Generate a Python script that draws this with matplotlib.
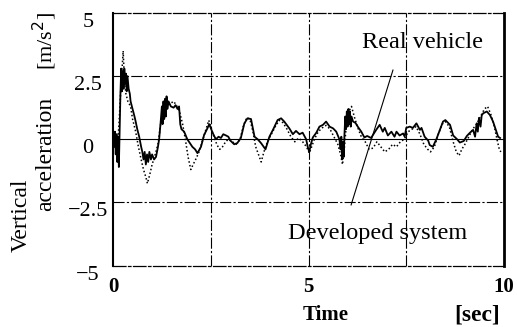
import matplotlib
matplotlib.use('Agg')
from matplotlib import pyplot as plt
import numpy as np

# real vehicle (solid trace)
t_real = [0.00, 0.03, 0.05, 0.07, 0.09, 0.11, 0.13, 0.15, 0.17, 0.19, 0.21, 0.23, 0.25, 0.27,
          0.29, 0.31, 0.33, 0.35, 0.37, 0.40, 0.43, 0.45, 0.50, 0.55, 0.58, 0.62, 0.67, 0.72,
          0.75, 0.78, 0.81, 0.84, 0.87, 0.90, 0.93, 0.97, 1.00, 1.05, 1.10, 1.15, 1.18, 1.22,
          1.25, 1.27, 1.29, 1.31, 1.33, 1.35, 1.37, 1.39, 1.42, 1.48, 1.55, 1.60, 1.65, 1.69,
          1.72, 1.75, 1.82, 1.90, 2.03, 2.10, 2.16, 2.25, 2.33, 2.42, 2.46, 2.55, 2.63, 2.70,
          2.76, 2.82, 2.89, 2.95, 3.00, 3.10, 3.18, 3.27, 3.36, 3.44, 3.53, 3.62, 3.70, 3.79,
          3.90, 4.00, 4.09, 4.21, 4.30, 4.38, 4.51, 4.60, 4.68, 4.77, 4.85, 4.94, 4.98, 5.02,
          5.06, 5.11, 5.20, 5.28, 5.37, 5.45, 5.54, 5.63, 5.71, 5.79, 5.82, 5.84, 5.86, 5.88,
          5.90, 5.92, 5.94, 5.96, 5.98, 6.00, 6.02, 6.04, 6.06, 6.08, 6.10, 6.14, 6.20, 6.26,
          6.35, 6.43, 6.50, 6.60, 6.73, 6.82, 6.90, 6.95, 7.03, 7.12, 7.20, 7.25, 7.33, 7.42,
          7.46, 7.50, 7.59, 7.67, 7.76, 7.85, 7.89, 7.97, 8.06, 8.10, 8.18, 8.27, 8.36, 8.44,
          8.50, 8.62, 8.70, 8.80, 8.87, 8.97, 9.05, 9.13, 9.21, 9.26, 9.30, 9.33, 9.36, 9.40,
          9.43, 9.47, 9.56, 9.64, 9.72, 9.79, 9.85, 9.90]
a_real = [0.0, -0.3, 0.3, -0.6, 0.2, -0.9, 0.1, -1.1, 0.4, 1.8, 2.8, 1.9, 2.7, 2.0,
          2.8, 2.2, 2.6, 1.9, 2.5, 2.0, 1.8, 1.5, 1.2, 0.9, 0.7, 0.4, 0.1, -0.3,
          -0.5, -0.8, -0.5, -1.0, -0.6, -0.9, -0.5, -0.8, -0.6, -0.8, -0.7, -0.3, 0.0, 0.7,
          1.3, 0.6, 1.5, 0.8, 1.6, 0.9, 1.7, 1.2, 1.5, 1.3, 1.25, 1.35, 1.2, 1.3,
          0.6, 0.4, 0.3, 0.0, -0.3, -0.4, -0.55, -0.3, 0.17, 0.45, 0.6, 0.25, 0.0, 0.1,
          0.05, 0.2, 0.15, 0.1, -0.05, -0.2, -0.15, 0.05, 0.63, 0.83, 0.8, 0.1, 0.0, -0.16,
          -0.4, 0.1, 0.37, 0.76, 0.83, 0.7, 0.43, 0.2, 0.33, 0.2, 0.26, 0.0, -0.3, -0.5,
          -0.2, 0.07, 0.26, 0.5, 0.57, 0.7, 0.5, 0.43, 0.3, 0.0, -0.4, 0.1, -0.8, -0.1,
          -0.7, 0.2, 0.9, 0.4, 1.1, 0.5, 1.2, 0.6, 1.1, 0.5, 0.9, 0.7, 0.65, 0.5,
          0.3, 0.07, 0.13, 0.05, 0.37, 0.57, 0.3, 0.45, 0.15, 0.3, 0.1, 0.3, 0.15, 0.23,
          0.1, 0.45, 0.5, 0.45, 0.63, 0.37, 0.45, 0.1, -0.05, -0.23, -0.3, 0.0, 0.37, 0.7,
          0.76, 0.57, 0.15, 0.0, -0.13, -0.07, 0.13, 0.26, 0.37, 0.1, 0.63, 0.3, 0.85, 0.5,
          0.95, 1.03, 1.1, 0.96, 0.7, 0.37, 0.1, 0.05]

# developed system (dotted trace)
t_dev = [0.00, 0.05, 0.10, 0.15, 0.20, 0.24, 0.26, 0.29, 0.33, 0.38, 0.45, 0.50, 0.58, 0.65,
         0.72, 0.78, 0.84, 0.88, 0.94, 1.00, 1.08, 1.15, 1.22, 1.28, 1.36, 1.45, 1.55, 1.62,
         1.70, 1.78, 1.85, 1.92, 1.99, 2.05, 2.13, 2.20, 2.28, 2.36, 2.45, 2.52, 2.60, 2.67,
         2.73, 2.80, 2.88, 2.95, 3.05, 3.15, 3.25, 3.33, 3.42, 3.50, 3.58, 3.65, 3.72, 3.79,
         3.86, 3.95, 4.05, 4.15, 4.25, 4.35, 4.45, 4.55, 4.65, 4.75, 4.85, 4.95, 5.02, 5.08,
         5.15, 5.25, 5.35, 5.45, 5.55, 5.65, 5.75, 5.82, 5.87, 5.92, 5.97, 6.03, 6.10, 6.17,
         6.25, 6.35, 6.45, 6.55, 6.65, 6.75, 6.85, 6.95, 7.05, 7.15, 7.25, 7.35, 7.45, 7.55,
         7.65, 7.75, 7.85, 7.95, 8.05, 8.12, 8.22, 8.32, 8.42, 8.50, 8.60, 8.70, 8.78, 8.85,
         8.92, 9.00, 9.10, 9.20, 9.30, 9.40, 9.50, 9.58, 9.66, 9.74, 9.82, 9.88, 9.92]
a_dev = [0.0, -0.2, -0.5, 0.5, 2.0, 3.0, 3.5, 2.4, 1.8, 1.5, 1.3, 0.8, 0.3, -0.3,
         -0.8, -1.2, -1.5, -1.75, -1.4, -1.0, -0.6, -0.2, 0.6, 1.1, 1.3, 1.4, 1.5, 1.35,
         1.1, 0.6, 0.0, -0.7, -1.2, -1.0, -0.75, -0.5, -0.1, 0.3, 0.75, 0.4, 0.0, -0.25,
         -0.4, -0.3, -0.1, 0.0, -0.1, -0.2, 0.0, 0.5, 0.85, 0.8, 0.3, -0.3, -0.6, -0.9,
         -0.5, -0.1, 0.2, 0.5, 0.75, 0.65, 0.4, 0.1, -0.1, 0.05, -0.1, -0.3, -0.55, -0.3,
         0.0, 0.3, 0.45, 0.55, 0.4, 0.1, -0.2, -0.6, -1.0, -0.3, 0.6, 1.1, 1.3, 0.9,
         0.5, 0.1, -0.1, -0.4, -0.35, -0.1, -0.3, -0.5, -0.4, -0.2, -0.3, -0.1, 0.0, 0.3,
         0.4, 0.5, 0.2, -0.2, -0.4, -0.5, -0.3, 0.2, 0.6, 0.7, 0.5, -0.1, -0.5, -0.65,
         -0.4, -0.2, 0.1, 0.4, 0.6, 0.9, 1.2, 1.3, 1.0, 0.6, 0.0, -0.4, -0.5]

yticks = [-5, -2.5, 0, 2.5, 5]
ytick_labels = ['\u22125', '\u22122.5', '0', '2.5', '5']
xticks = [0, 2.5, 5, 7.5, 10]
xtick_labels = ['0', '', '5', '', '10']

# pointer line shared by both labels
pointer_t = [7.16, 6.09]
pointer_a = [2.74, -2.6]

W, H = 517, 327
SERIF = ['Liberation Serif', 'DejaVu Serif']
plt.rcParams['font.family'] = SERIF


def fx(px):
    return px / W


def fy(py):
    return 1 - py / H


if __name__ == '__main__':
    fig = plt.figure(figsize=(W / 100, H / 100), dpi=100)
    ax = fig.add_axes([fx(113), fy(265.5), (504 - 113) / W, (265.5 - 13) / H])

    dash = (0, (10, 2, 2, 2))
    for g in [2.5, 5, 7.5]:
        ax.axvline(g, color='black', lw=0.8, ls=dash, zorder=1)
    for g in [-2.5, 2.5]:
        ax.axhline(g, color='black', lw=0.8, ls=dash, zorder=1)
    ax.axhline(0, color='black', lw=0.8, zorder=1)

    ax.plot(t_dev, a_dev, color='black', lw=1.1, ls=(0, (1, 1.5)), zorder=2)
    ax.plot(t_real, a_real, color='black', lw=1.3, zorder=3)
    ax.plot(pointer_t, pointer_a, color='black', lw=0.8, zorder=4)

    ax.set_xlim(0, 10)
    ax.set_ylim(-5, 5)
    ax.set_xticks(xticks)
    ax.set_xticklabels(xtick_labels, fontsize=15, fontweight='bold')
    ax.set_yticks(yticks)
    ax.set_yticklabels(ytick_labels, fontsize=16)
    ax.tick_params(length=0)
    ax.tick_params(axis='x', pad=8)
    ax.tick_params(axis='y', pad=18)
    for lab in ax.get_yticklabels():
        lab.set_horizontalalignment('center')
        lab.set_verticalalignment('top')

    ax.spines['left'].set_linewidth(1.5)
    ax.spines['right'].set_linewidth(2.0)
    for s in ['top', 'bottom']:
        ax.spines[s].set_linewidth(0.9)
        ax.spines[s].set_linestyle(dash)

    fig.text(fx(422), fy(42), 'Real vehicle', fontsize=17.5, ha='center', va='center')
    fig.text(fx(378), fy(233), 'Developed system', fontsize=17.5, ha='center', va='center')
    fig.text(fx(326), fy(315), 'Time', fontsize=15, fontweight='bold', ha='center', va='center')
    fig.text(fx(477), fy(315), '[sec]', fontsize=17, fontweight='bold', ha='center', va='center')
    fig.text(fx(21), fy(215), 'Vertical', fontsize=17, rotation=90, ha='center', va='center')
    fig.text(fx(46), fy(154), 'acceleration', fontsize=17, rotation=90, ha='center', va='center')
    fig.text(fx(45), fy(41), '[m/s$^2$]', fontsize=16, rotation=90, ha='center', va='center')

    fig.savefig('out.png', dpi=100)
